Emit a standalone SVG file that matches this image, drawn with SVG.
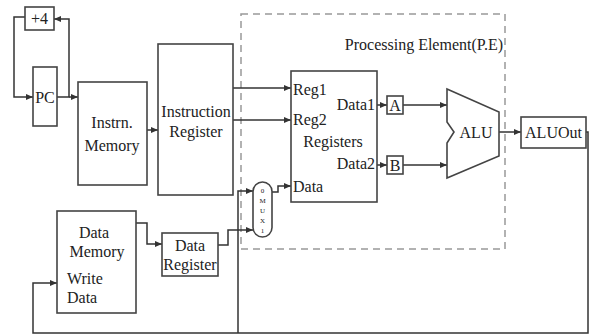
<svg xmlns="http://www.w3.org/2000/svg" width="590" height="336" viewBox="0 0 590 336" font-family="'Liberation Serif', 'DejaVu Serif', serif">
<defs>
<marker id="ah" markerUnits="userSpaceOnUse" markerWidth="7" markerHeight="6" refX="7" refY="3" orient="auto">
<path d="M0,0 L7,3 L0,6 Z" fill="#333"/>
</marker>
<style>
.box{fill:#fff;stroke:#444;stroke-width:1.6}
.ln{fill:none;stroke:#333;stroke-width:1.5}
.t{font-family:'Liberation Serif','DejaVu Serif',serif;font-size:16px;fill:#222}
.m{text-anchor:middle}
.e{text-anchor:end}
.s{font-family:'Liberation Serif','DejaVu Serif',serif;font-size:7px;fill:#222;text-anchor:middle}
</style>
</defs>
<rect width="590" height="336" fill="#fff"/>
<g id="pe">
<rect x="241" y="14" width="264" height="235" fill="none" stroke="#999" stroke-width="1.5" stroke-dasharray="7,5"/>
<text class="t e" x="503" y="50">Processing Element(P.E)</text>
</g>
<g id="connectors">
<path class="ln" d="M57,97 H69 V19 H54" marker-end="url(#ah)"/>
<path class="ln" d="M25,17 H14 V97 H33" marker-end="url(#ah)"/>
<path class="ln" d="M69,97 H78" marker-end="url(#ah)"/>
<path class="ln" d="M147,130 H158" marker-end="url(#ah)"/>
<path class="ln" d="M233,88 H291" marker-end="url(#ah)"/>
<path class="ln" d="M233,120 H291" marker-end="url(#ah)"/>
<path class="ln" d="M377,105 H387" marker-end="url(#ah)"/>
<path class="ln" d="M377,165 H387" marker-end="url(#ah)"/>
<path class="ln" d="M403,105 H447" marker-end="url(#ah)"/>
<path class="ln" d="M403,165 H447" marker-end="url(#ah)"/>
<path class="ln" d="M499,132 H521" marker-end="url(#ah)"/>
<path class="ln" d="M586,132 H588 V333 H33 V283 H57" marker-end="url(#ah)"/>
<path class="ln" d="M238,333 V191 H253" marker-end="url(#ah)"/>
<path class="ln" d="M136,223 H147 V244 H162" marker-end="url(#ah)"/>
<path class="ln" d="M218,245 H228 V230 H253" marker-end="url(#ah)"/>
<path class="ln" d="M272,192 H278 V186 H291" marker-end="url(#ah)"/>
</g>
<g id="plus4">
<rect class="box" x="25" y="7" width="29" height="23"/>
<text class="t m" x="39.5" y="24">+4</text>
</g>
<g id="pc">
<rect class="box" x="33" y="67" width="24" height="59"/>
<text class="t m" x="45" y="103">PC</text>
</g>
<g id="instr-mem">
<rect class="box" x="78" y="82" width="69" height="103"/>
<text class="t m" x="112" y="128">Instrn.</text>
<text class="t m" x="112" y="151">Memory</text>
</g>
<g id="instr-reg">
<rect class="box" x="158" y="44" width="75" height="151"/>
<text class="t m" x="196" y="117">Instruction</text>
<text class="t m" x="196" y="137">Register</text>
</g>
<g id="registers">
<rect class="box" x="291" y="71" width="86" height="131"/>
<text class="t" x="293" y="95">Reg1</text>
<text class="t" x="293" y="125">Reg2</text>
<text class="t m" x="333" y="147">Registers</text>
<text class="t e" x="375" y="110">Data1</text>
<text class="t e" x="375" y="169">Data2</text>
<text class="t" x="293" y="192">Data</text>
</g>
<g id="reg-a">
<rect class="box" x="387" y="96" width="16" height="18"/>
<text class="t m" x="395" y="111">A</text>
</g>
<g id="reg-b">
<rect class="box" x="387" y="156" width="16" height="18"/>
<text class="t m" x="395" y="171">B</text>
</g>
<g id="alu">
<polygon points="447,89 499,112 499,156 447,178 447,143 454,132 447,122" fill="#fff" stroke="#444" stroke-width="1.6"/>
<text class="t m" x="476" y="138">ALU</text>
</g>
<g id="aluout">
<rect class="box" x="521" y="117" width="65" height="31"/>
<text class="t m" x="553.5" y="138">ALUOut</text>
</g>
<g id="mux">
<rect class="box" x="253" y="182" width="19" height="55" rx="9.5"/>
<text class="s" x="262.5" y="193">0</text>
<text class="s" x="262.5" y="203">M</text>
<text class="s" x="262.5" y="213">U</text>
<text class="s" x="262.5" y="223">X</text>
<text class="s" x="262.5" y="233">1</text>
</g>
<g id="data-mem">
<rect class="box" x="57" y="211" width="79" height="102"/>
<text class="t m" x="94" y="238">Data</text>
<text class="t m" x="97" y="257">Memory</text>
<text class="t" x="67" y="284">Write</text>
<text class="t" x="67" y="303">Data</text>
</g>
<g id="data-reg">
<rect class="box" x="162" y="233" width="56" height="43"/>
<text class="t m" x="190" y="251">Data</text>
<text class="t m" x="190" y="270">Register</text>
</g>
</svg>
